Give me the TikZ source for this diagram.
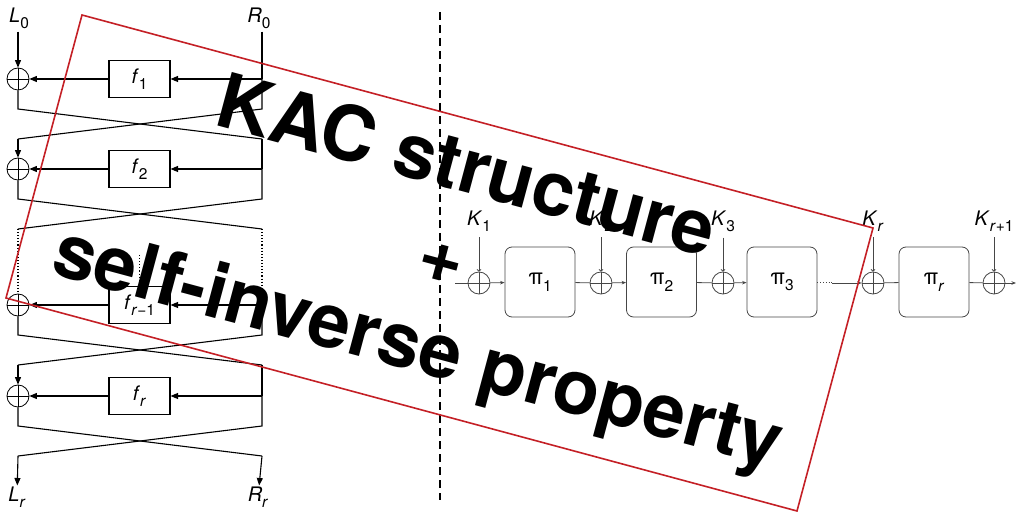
\documentclass[tikz,border=0pt]{standalone}
\usepackage{fontspec}
\setmainfont{TeX Gyre Heros}
\usetikzlibrary{arrows.meta}
\definecolor{boxred}{RGB}{196,32,38}
\definecolor{kacgray}{RGB}{70,70,70}
% italic symbol with a lowered, slightly reduced index
\newcommand\sbs[1]{\raisebox{-0.3em}{\fontsize{15.5}{16}\selectfont #1}}
\newcommand\lbl[2]{\textit{#1}\sbs{#2}}
\begin{document}
\begin{tikzpicture}[x=1pt,y=-1pt,
  feis/.style={line width=1.1pt,black},
  farrow/.style={feis,-{Triangle[length=7.5pt,width=6pt]}},
  xorbox/.style={circle,draw,line width=0.8pt,minimum size=22pt,inner sep=0pt,
    path picture={\draw[line width=0.8pt] (path picture bounding box.north) -- (path picture bounding box.south)
      (path picture bounding box.west) -- (path picture bounding box.east);}},
  fbox/.style={draw,line width=1.1pt,minimum width=61pt,minimum height=37pt,inner sep=0pt,
    font=\fontsize{20}{22}\selectfont},
  flab/.style={inner sep=1pt,font=\fontsize{20}{22}\selectfont},
  kac/.style={line width=0.8pt,kacgray},
  karrow/.style={kac,-{Stealth[length=4.5pt,width=3.5pt]}},
  kdown/.style={kac,-{To[length=2.5pt,width=4.5pt]}},
  kxor/.style={xorbox,kacgray},
  pibox/.style={draw,kacgray,line width=0.8pt,rounded corners=7pt,minimum width=70pt,
    minimum height=70pt,inner sep=0pt,text=black,font=\fontsize{22}{24}\selectfont},
  klab/.style={inner sep=1pt,font=\fontsize{20}{22}\selectfont},
  frame/.style={boxred,line width=1.6pt,line join=miter},
  banner/.style={rotate=-15,align=center,inner sep=0pt,
    font=\fontsize{76}{93}\selectfont\bfseries}
]
\useasboundingbox (0,0) rectangle (1018,513);

% ---------------- Feistel network ----------------
\foreach \i/\c/\f in {1/79/{\lbl{f}{1}},2/169/{\lbl{f}{2}},3/305/{\lbl{f}{\textit{r}−1}},4/396/{\lbl{f}{\textit{r}}}}{
  \node[xorbox] (x\i) at (18,\c) {};
  \node[fbox] (f\i) at (139.5,\c) {\f};
  \coordinate (r\i) at (262,\c);
  \coordinate (Lt\i) at (18,\c+30);
  \coordinate (Rt\i) at (262,\c+30);
  \coordinate (Lb\i) at (18,\c+60);
  \coordinate (Rb\i) at (262,\c+60);
  \draw[farrow] (r\i) -- (f\i);
  \draw[farrow] (f\i) -- (x\i);
  \draw[feis] (x\i) -- (Lt\i) -- (Rb\i);
  \draw[feis] (r\i) -- (Rt\i) -- (Lb\i);
}
\node[flab] (L0) at (19,18) {\lbl{L}{0}};
\node[flab] (R0) at (259,18) {\lbl{R}{0}};
\node[flab] (Lr) at (17,497) {\lbl{L}{\textit{r}}};
\node[flab] (Rr) at (258,497) {\lbl{R}{\textit{r}}};
\draw[farrow,shorten <=2pt] (L0.south-|x1) -- (x1);
\draw[feis,shorten <=2pt] (R0.south-|r1) -- (r1);
\draw[farrow] (Lb1) -- (x2);
\draw[feis] (Rb1) -- (r2);
\draw[feis,dotted] (Lb2) -- (x3);
\draw[feis,dotted] (Rb2) -- (r3);
\coordinate (fdots) at (139.5,255);
\draw[feis,dotted] (fdots) -- (f3);
\draw[farrow] (Lb3) -- (x4);
\draw[feis] (Rb3) -- (r4);
\draw[farrow] (Lb4) -- (Lr);
\draw[farrow] (Rb4) -- (Rr);

% ---------------- separator ----------------
\coordinate (sepT) at (440,12);
\coordinate (sepB) at (440,500);
\draw[line width=1.5pt,dash pattern=on 8pt off 5pt] (sepT) -- (sepB);

% ---------------- key-alternating cipher ----------------
\foreach \i/\x/\k in {1/479/{\lbl{K}{1}},2/601/{\lbl{K}{2}},3/723/{\lbl{K}{3}},4/873/{\lbl{K}{\textit{r}}},5/994/{\lbl{K}{\textit{r}+1}}}{
  \node[kxor] (k\i) at (\x,283) {};
  \node[klab] (K\i) at (\x,221) {\k};
  \draw[kdown,shorten <=5pt] (K\i.south) -- (k\i);
}
\node[pibox] (p1) at (540,282) {π\sbs{1}};
\node[pibox] (p2) at (661.5,282) {π\sbs{2}};
\node[pibox] (p3) at (782,282) {π\sbs{3}};
\node[pibox] (p4) at (934,282) {π\sbs{\textit{r}}};
\coordinate (kin) at (455,283);
\coordinate (dotend) at (832,283);
\coordinate (kout) at (1016,283);
\draw[kac] (kin) -- (k1);
\draw[karrow] (k1) -- (p1);
\draw[kac] (p1) -- (k2);
\draw[karrow] (k2) -- (p2);
\draw[kac] (p2) -- (k3);
\draw[karrow] (k3) -- (p3);
\draw[kac,dotted,line width=1pt] (p3.east|-k4) -- (dotend);
\draw[karrow] (dotend) -- (k4);
\draw[kac] (k4) -- (p4);
\draw[kac] (p4) -- (k5);
\draw[karrow] (k5) -- (kout);

% ---------------- overlay frame and banner ----------------
\coordinate (c1) at (82,15);
\coordinate (c2) at (873,228);
\coordinate (c3) at (797,511);
\coordinate (c4) at (6,298);
\draw[frame] (c1) -- (c2) -- (c3) -- (c4) -- cycle;
\node[banner] (title) at (441,262) {KAC structure\\+\\self-inverse property};
\end{tikzpicture}
\end{document}
